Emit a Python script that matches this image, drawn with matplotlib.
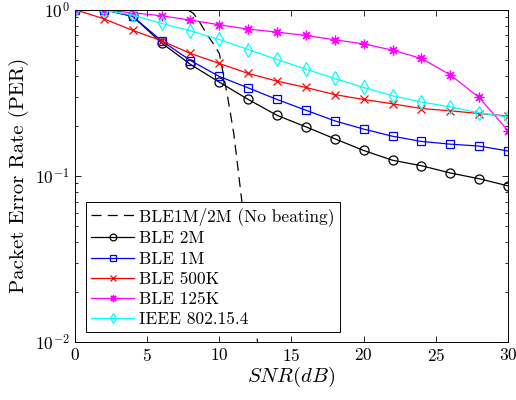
import matplotlib
matplotlib.use("Agg")
import matplotlib.pyplot as plt

plt.rcParams['font.family'] = ['cmr10', 'DejaVu Serif']
plt.rcParams['mathtext.fontset'] = 'cm'
plt.rcParams['axes.formatter.use_mathtext'] = True

# SNR grid of the simulated curves
snr = [0, 2, 4, 6, 8, 10, 12, 14, 16, 18, 20, 22, 24, 26, 28, 30]

# theoretical curve without beating
snr_theory = [0, 2, 4, 6, 7, 7.8, 8.2, 8.6, 9.1, 9.6, 10.0, 10.3, 10.6, 11.0, 11.5, 12.0, 12.6, 12.9]
per_theory = [1, 1, 1, 1, 1, 0.998, 0.95, 0.85, 0.72, 0.62, 0.545, 0.40, 0.29, 0.18, 0.078, 0.032, 0.011, 0.006]

per_2m = [1, 1, 0.91, 0.63, 0.468, 0.366, 0.288, 0.231, 0.197, 0.167, 0.142, 0.124, 0.115, 0.104, 0.096, 0.087]
per_1m = [1, 1, 0.91, 0.649, 0.494, 0.396, 0.338, 0.288, 0.248, 0.214, 0.191, 0.173, 0.161, 0.155, 0.151, 0.141]
per_500k = [1, 0.88, 0.75, 0.649, 0.545, 0.474, 0.413, 0.371, 0.34, 0.308, 0.288, 0.271, 0.254, 0.246, 0.237, 0.229]
per_125k = [1, 0.995, 0.956, 0.918, 0.865, 0.81, 0.763, 0.732, 0.699, 0.658, 0.622, 0.57, 0.508, 0.405, 0.296, 0.187]
per_154 = [1, 0.99, 0.927, 0.826, 0.745, 0.661, 0.575, 0.501, 0.438, 0.385, 0.34, 0.303, 0.278, 0.26, 0.239, 0.226]

fig = plt.figure(figsize=(5.16, 4.0), dpi=100)
ax = fig.add_axes([0.1453, 0.145, 0.8392, 0.831])

ax.plot(snr_theory, per_theory, color='k', lw=0.9, dashes=(8, 5),
        label='BLE1M/2M (No beating)')
ax.plot(snr, per_2m, color='k', lw=0.9, marker='o', ms=6.5, mfc='none', mew=0.9,
        label='BLE 2M')
ax.plot(snr, per_1m, color='#0000ff', lw=0.9, marker='s', ms=5.5, mfc='none', mew=0.9,
        label='BLE 1M')
ax.plot(snr, per_500k, color='#ff0000', lw=0.9, marker='x', ms=5.5, mew=0.9,
        label='BLE 500K')
ax.plot(snr, per_125k, color='#ff00ff', lw=0.9, marker=(8, 2, 0), ms=7, mew=0.9,
        label='BLE 125K')
ax.plot(snr, per_154, color='#00ffff', lw=0.9, marker='d', ms=7, mfc='none', mew=0.9,
        label='IEEE 802.15.4')

ax.set_yscale('log')
ax.set_xlim(0, 30)
ax.set_ylim(1e-2, 1)
ax.set_xticks([0, 5, 10, 15, 20, 25, 30])
ax.tick_params(which='both', direction='in', top=True, right=True, labelsize=12.5)
ax.tick_params(which='major', length=4.5, width=0.6)
ax.tick_params(which='minor', length=2.5, width=0.6)
for s in ax.spines.values():
    s.set_linewidth(0.7)

ax.set_xlabel('$SNR(dB)$', fontsize=15, labelpad=1)
ax.set_ylabel('Packet Error Rate (PER)', fontsize=15, labelpad=4)

leg = ax.legend(loc='lower left', bbox_to_anchor=(0.025, 0.029), fontsize=12.5,
                fancybox=False, edgecolor='k', framealpha=1, borderaxespad=0,
                handlelength=2.5, handletextpad=0.25, labelspacing=0.28,
                borderpad=0.3, markerscale=0.75)
leg.get_frame().set_linewidth(0.7)

fig.savefig('out.png', dpi=100)
